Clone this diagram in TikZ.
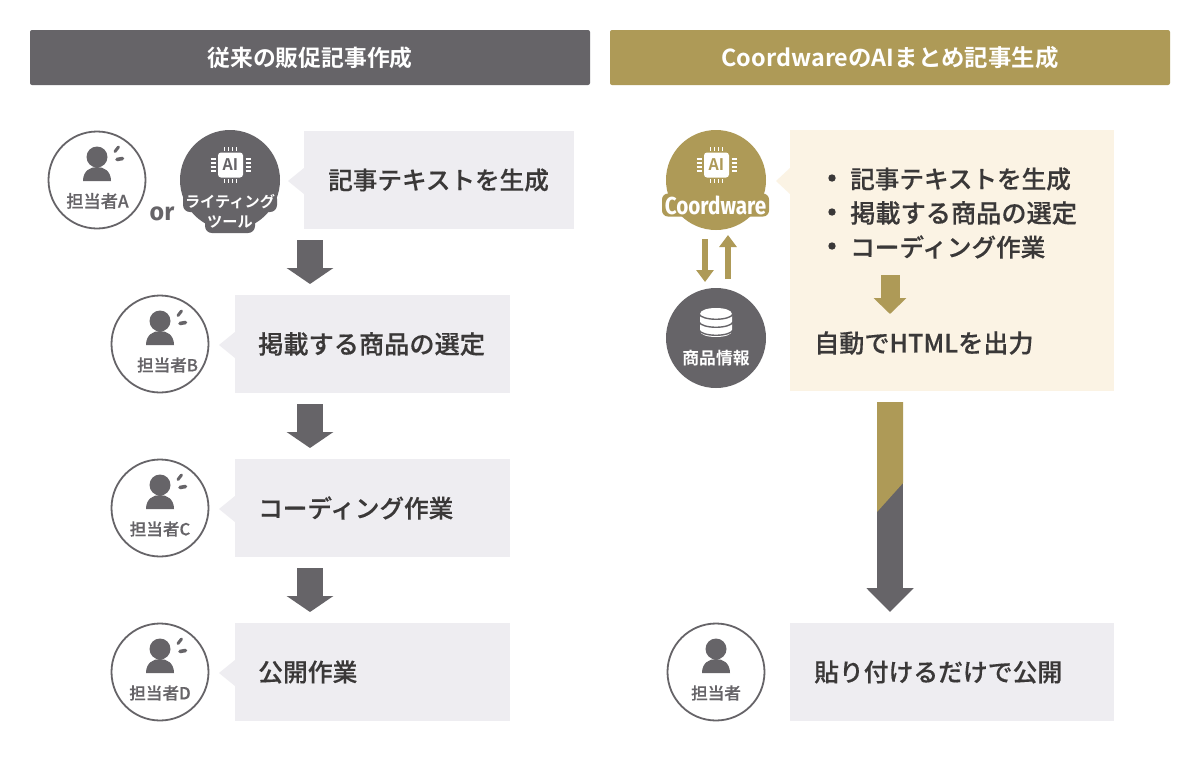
\documentclass[tikz,border=0pt]{standalone}
\usepackage{fontspec}
\setmainfont{Noto Sans CJK JP}[BoldFont={Noto Sans CJK JP Bold}]
\newfontfamily\med{Noto Sans CJK JP Medium}[FakeBold=0.35]
\newfontfamily\latinb{Fira Sans}
\usetikzlibrary{arrows.meta,calc}
\definecolor{gy}{HTML}{666468}
\definecolor{gd}{HTML}{AE9A57}
\definecolor{bx}{HTML}{EEEDF1}
\definecolor{cr}{HTML}{FBF3E4}
\definecolor{ink}{HTML}{3A3838}
\newcommand{\fs}[1]{\fontsize{#1}{#1}\selectfont}
\tikzset{
  x=1pt,y=-1pt,
  headbar/.style={rounded corners=2pt,minimum height=55pt,text=white,font=\fs{#1}\bfseries,inner sep=0pt},
  ring/.style={circle,draw=gy,line width=1.8pt,fill=white,minimum size=97pt,inner sep=0pt},
  disc/.style={circle,fill=#1,minimum size=100pt,inner sep=0pt},
  body/.style={text=ink,font=\med\fs{#1},anchor=west,inner sep=0pt},
  body/.default=24.6,
  who/.style={text=gy,font=\med\fs{#1},inner sep=0pt},
  who/.default=16.6,
  wlabel/.style={text=white,font=\fs{#1}\bfseries,inner sep=0pt},
  blockdn/.style={draw=gy,line width=26pt,-{Triangle[width=46pt,length=16pt]}},
  blockgd/.style={draw=gd,line width=19pt,-{Triangle[width=32pt,length=16pt]}},
  thinarrow/.style={draw=gd,line width=6.2pt,-{Triangle[width=17pt,length=12pt]}},
  tallarrow/.style={draw=gy,line width=26pt,-{Triangle[width=46pt,length=24pt]}},
}
% person icon centred on a circle
\newcommand{\person}[1]{%
  \fill[gy] ($(#1)+(0,-23)$) circle (10.5);
  \fill[gy] ($(#1)+(-14,1)$) .. controls ($(#1)+(-14,-9)$) and ($(#1)+(-7,-13)$) .. ($(#1)+(0,-13)$)
     .. controls ($(#1)+(7,-13)$) and ($(#1)+(14,-9)$) .. ($(#1)+(14,1)$) -- cycle;
}
\newcommand{\sweat}[1]{%
  \draw[gy,line width=3pt,line cap=round] ($(#1)+(18,-28.5)$) -- ($(#1)+(21.5,-33)$);
  \draw[gy,line width=3.6pt,line cap=round] ($(#1)+(20,-20.5)$) -- ($(#1)+(25.5,-21.5)$);
}
% chip icon
\newcommand{\chip}[3]{%
  \foreach \d in {-6,-2,2,6}{
    \draw[white,line width=1.2pt] ($(#1)+(\d,-18)$) -- ++(0,4);
    \draw[white,line width=1.2pt] ($(#1)+(\d,14)$) -- ++(0,4);
    \draw[white,line width=1.2pt] ($(#1)+(-20,\d)$) -- ++(5,0);
    \draw[white,line width=1.2pt] ($(#1)+(15,\d)$) -- ++(5,0);
  }
  \node[fill=white,rounded corners=3pt,minimum size=25pt,inner sep=0pt,text=#2,font=\fs{16}\bfseries] (#3) at (#1) {AI};
}
\begin{document}
\begin{tikzpicture}
\useasboundingbox (0,0) rectangle (1200,780);
\fill[white] (0,0) rectangle (1200,780);

% headers
\node[headbar=22.8,fill=gy,minimum width=560pt] (hl) at (310,57.5) {従来の販促記事作成};
\node[headbar=23.4,fill=gd,minimum width=560pt] (hr) at (890,57.5) {CoordwareのAIまとめ記事生成};

% boxes with pointers
\fill[bx] (304,131) rectangle (574,229);
\fill[bx] (304,168) -- (288,181) -- (304,194) -- cycle;
\fill[bx] (235,295) rectangle (510,393);
\fill[bx] (235,332) -- (219,345) -- (235,358) -- cycle;
\fill[bx] (235,459) rectangle (510,557);
\fill[bx] (235,496) -- (219,509) -- (235,522) -- cycle;
\fill[bx] (235,623) rectangle (510,721);
\fill[bx] (235,660) -- (219,673) -- (235,686) -- cycle;
\fill[cr] (790,130) rectangle (1114,391);
\fill[cr] (790,168) -- (776,181) -- (790,194) -- cycle;
\fill[bx] (790,623) rectangle (1114,721);

% left flow
\node[ring] (pa) at (97,180) {};
\node[disc=gy] (tool) at (230,180) {};
\node[ring] (pb) at (160,344) {};
\node[ring] (pc) at (160,508) {};
\node[ring] (pd) at (160,672) {};
\person{pa}\sweat{pa}
\person{pb}\sweat{pb}
\person{pc}\sweat{pc}
\person{pd}\sweat{pd}
\node[who=17.2] (la) at (97.5,201) {担当者A};
\node[who] (lb) at (167.5,365) {担当者B};
\node[who] (lc) at (160,529) {担当者C};
\node[who] (ld) at (160,693) {担当者D};
\node[text=gy,font=\latinb\fs{25}\bfseries,inner sep=0pt] (or) at (162,213.5) {or};
\chip{230.5,165}{gy}{chipa}
\node[fill=gy,rounded corners=7pt,wlabel=15.2,minimum width=94pt,minimum height=20pt] (t1) at (230,202) {ライティング};
\node[fill=gy,rounded corners=7pt,wlabel=15.2,minimum width=50pt,minimum height=22pt] (t2) at (230,222) {ツール};

\node[body] (b1) at (328,180) {記事テキストを生成};
\node[body=25.2] (b2) at (258,344) {掲載する商品の選定};
\node[body] (b3) at (258,508) {コーディング作業};
\node[body=24.8] (b4) at (258,672) {公開作業};

\coordinate (a1s) at (310,240); \coordinate (a1e) at (310,284);
\coordinate (a2s) at (310,404); \coordinate (a2e) at (310,448);
\coordinate (a3s) at (310,568); \coordinate (a3e) at (310,612);
\draw[blockdn] (a1s) -- (a1e);
\draw[blockdn] (a2s) -- (a2e);
\draw[blockdn] (a3s) -- (a3e);

% right flow
\node[disc=gd] (cw) at (716,180) {};
\chip{716.5,165}{gd}{chipb}
\node[fill=gd,rounded corners=6pt,text=white,inner sep=0pt,minimum width=107pt,minimum height=23pt] (cwl) at (715.5,205) {\latinb\fs{24.5}\bfseries\scalebox{.845}[1]{Coordware}};
\node[disc=gy] (info) at (716,338) {};
% database icon
\fill[white] (700,314) -- (700,331) .. controls (700,339) and (732,339) .. (732,331) -- (732,314) .. controls (732,306) and (700,306) .. (700,314) -- cycle;
\foreach \yy in {314,322,330}{
  \draw[gy,line width=1.4pt] (699,\yy) .. controls (702,\yy+7) and (730,\yy+7) .. (733,\yy);
}
\node[wlabel=16.8] (il) at (716,358) {商品情報};

\coordinate (d1) at (705,239); \coordinate (d2) at (705,282);
\coordinate (u1) at (728,279); \coordinate (u2) at (728,235);
\draw[thinarrow] (d1) -- (d2);
\draw[thinarrow] (u1) -- (u2);

\fill[ink] (832,178) circle (3.7);
\fill[ink] (832,212) circle (3.7);
\fill[ink] (832,246) circle (3.7);
\node[body] (r1) at (850,179) {記事テキストを生成};
\node[body=25.2] (r2) at (850,213) {掲載する商品の選定};
\node[body] (r3) at (850,247) {コーディング作業};
\coordinate (g1) at (890,275); \coordinate (g2) at (890,314);
\draw[blockgd] (g1) -- (g2);
\node[body=25.1] (r4) at (814,343) {自動でHTMLを出力};

\coordinate (t1s) at (890,402); \coordinate (t1e) at (890,612);
\draw[tallarrow] (t1s) -- (t1e);
\fill[gd] (877,402) -- (903,402) -- (903,483) -- (877,512) -- cycle;

\node[ring] (pe) at (716,672) {};
\person{pe}
\node[who] (le) at (716,693) {担当者};
\node[body=24.8] (r5) at (814,672) {貼り付けるだけで公開};
\end{tikzpicture}
\end{document}
